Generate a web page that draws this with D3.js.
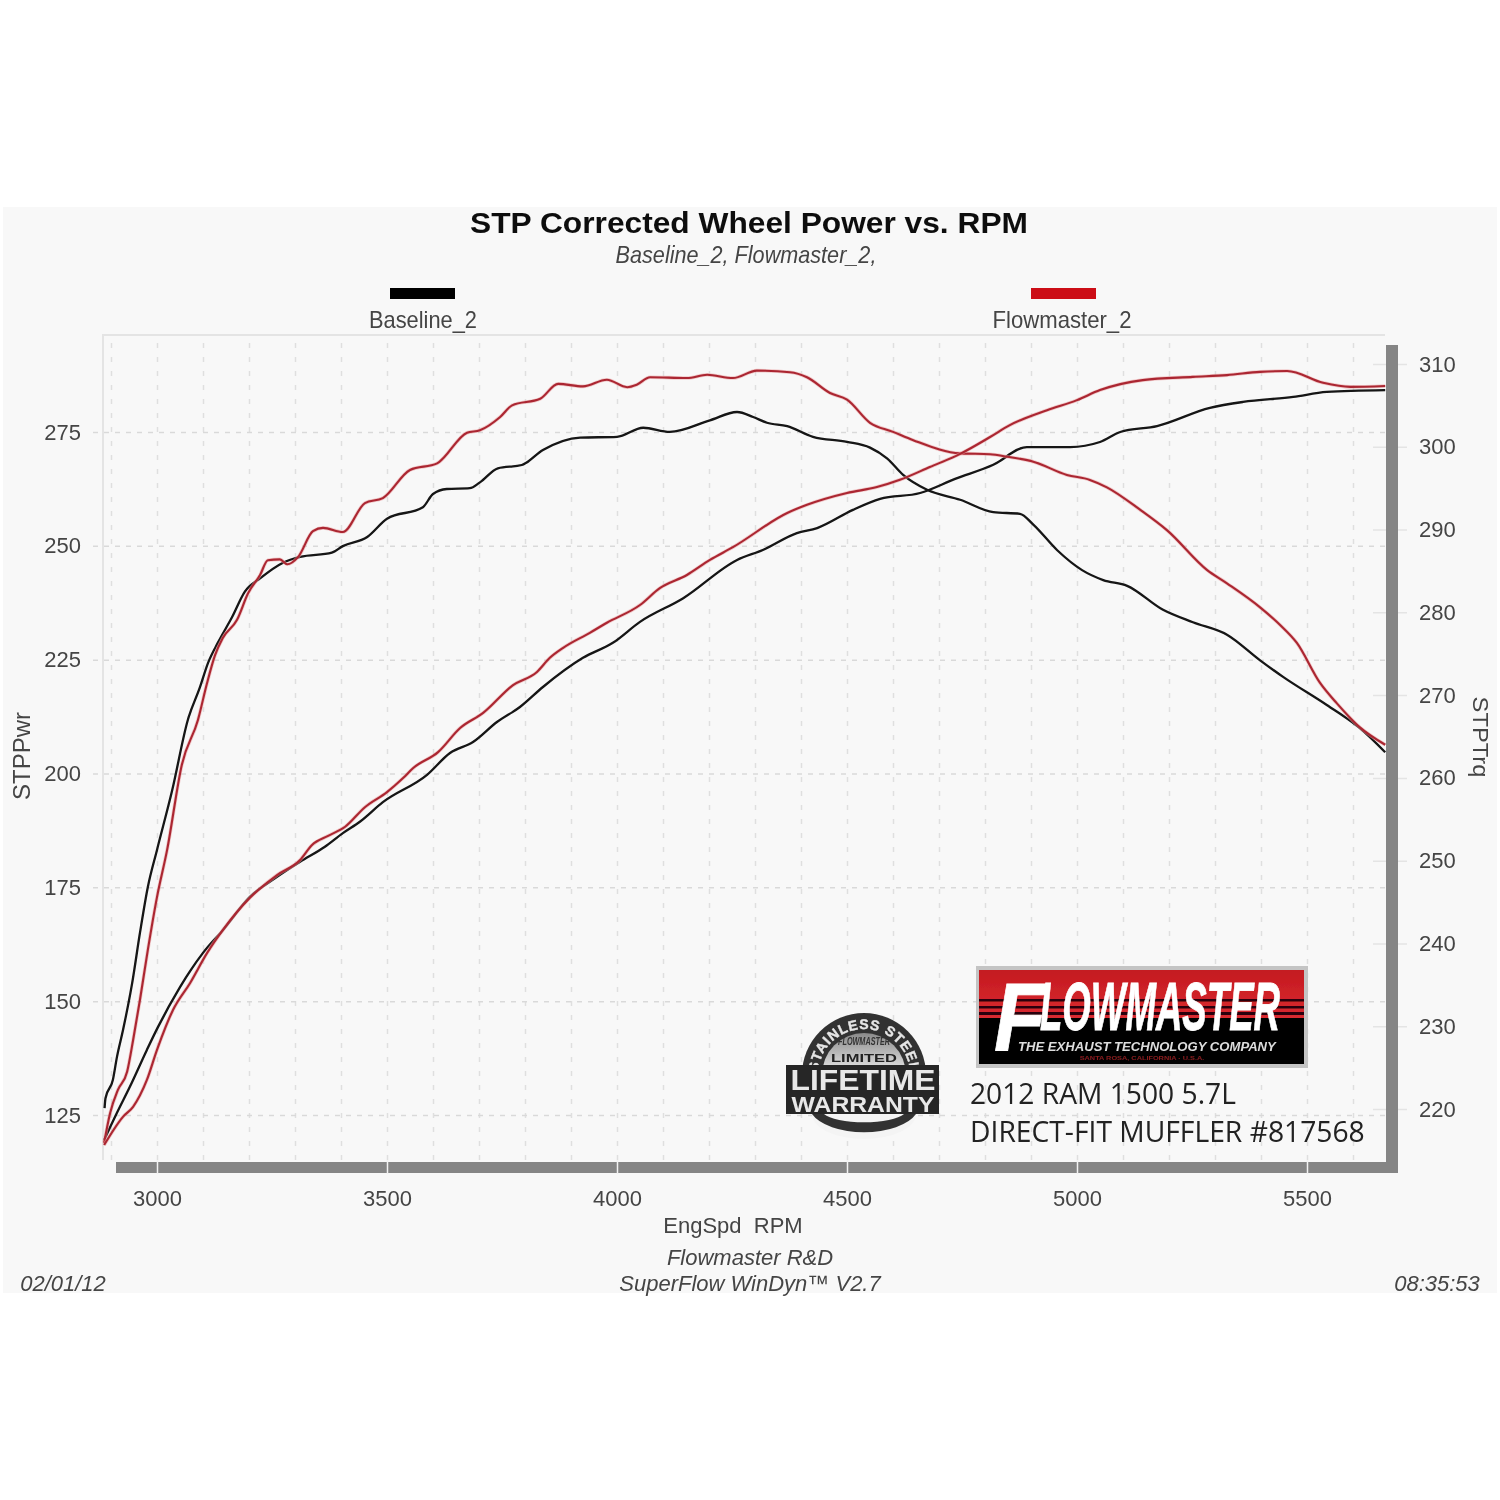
<!DOCTYPE html>
<html><head><meta charset="utf-8">
<style>
html,body{margin:0;padding:0;background:#fff}
svg{display:block}
text{font-family:"Liberation Sans",Arial,sans-serif;fill:#444}
.pre{white-space:pre}
</style>
<script src="https://cdn.jsdelivr.net/npm/d3@7"></script>
</head><body>
<script>
const xTicks=[3000,3500,4000,4500,5000,5500];
const xGrid=[2900,3000,3100,3200,3300,3400,3500,3600,3700,3800,3900,4000,4100,4200,4300,4400,4500,4600,4700,4800,4900,5000,5100,5200,5300,5400,5500,5600];
const powerTicks=[125,150,175,200,225,250,275];
const torqueTicks=[220,230,240,250,260,270,280,290,300,310];

const baseTorqueRpm=[2886,2888,2904,2913,2926,2946,2963,2980,3000,3033,3067,3093,3111,3133,3163,3191,3224,3274,3311,3380,3404,3457,3500,3578,3600,3630,3680,3702,3741,3793,3839,3920,4000,4057,4115,4202,4261,4296,4326,4370,4426,4500,4550,4587,4622,4674,4746,4818,4876,4905,4957,5011,5057,5109,5187,5252,5326,5398,5448,5543,5615,5670];
const baseTorque=[220.1,221.3,223.5,226.3,229.5,235.2,241.3,246.8,251.3,258.5,267,270.9,273.9,276.4,279.4,282.5,284.1,286,286.7,287.2,288,289.1,291.3,292.7,294.3,294.9,295,295.7,297.4,297.8,299.6,301.1,301.2,302.3,301.8,303.2,304.2,303.6,302.9,302.5,301.2,300.6,299.9,298.6,296.6,294.8,293.6,292.1,291.9,290.6,287.5,285.1,283.9,283.2,280.3,278.8,277.3,274.2,272.2,268.8,266,263.1];

const flowTorqueRpm=[2885,2898,2915,2935,2948,2963,2980,3000,3022,3054,3089,3109,3126,3143,3174,3198,3224,3241,3267,3283,3307,3339,3361,3404,3452,3491,3550,3609,3674,3702,3746,3772,3833,3872,3926,3978,4022,4043,4072,4152,4196,4252,4304,4376,4413,4463,4500,4550,4600,4644,4746,4811,4848,4905,4978,5028,5065,5137,5196,5283,5326,5398,5441,5478,5528,5565,5615,5670];
const flowTorque=[215.9,219.5,222.3,224.5,228.3,233.2,239.2,245.6,251.3,261.6,267,271.5,274.8,276.9,279.1,282.3,284.5,286.3,286.4,285.8,286.7,289.8,290.2,289.7,293.2,293.8,297.2,298,301.7,302,303.6,305,305.8,307.6,307.3,308.1,307.2,307.5,308.4,308.3,308.7,308.3,309.2,309,308.4,306.5,305.7,302.9,301.8,300.8,299.2,299.1,298.8,298.2,296.6,296,295.1,292.4,289.9,285.1,283.5,280.6,278.5,276.3,271.5,269,266.1,264];

const basePowerRpm=[2885,2913,2941,2978,3002,3050,3100,3143,3202,3261,3311,3365,3404,3441,3491,3587,3637,3687,3739,3789,3839,3926,3991,4050,4144,4261,4317,4391,4435,4513,4572,4659,4735,4818,4891,4985,5050,5094,5174,5289,5361,5470,5543,5670];
const basePower=[119.5,125.5,131.2,139.3,144.3,153.1,160.6,165.6,172.9,177.3,180.6,183.9,186.9,189.4,193.7,199.7,204.5,206.9,211.3,214.6,219,225.4,228.7,233.3,238.5,246.9,249.1,252.8,253.9,257.9,260.3,261.6,264.7,267.8,271.7,271.7,272.8,275,276.3,280.3,281.6,282.7,283.8,284.2];

const flowPowerRpm=[2885,2926,2948,2978,3000,3035,3072,3109,3143,3202,3261,3311,3337,3372,3409,3452,3500,3535,3557,3611,3659,3709,3774,3826,3854,3883,3941,3978,4050,4093,4152,4202,4252,4370,4413,4500,4565,4615,4680,4746,4811,4854,4935,5000,5050,5143,5252,5326,5398,5457,5535,5594,5670];
const flowPower=[118.4,124.6,126.8,132.7,139.3,148.1,154,160.6,165.6,172.7,177.7,181,184.3,186.3,188.3,192.6,195.9,199,201.2,204.7,210,213.3,219.4,222.3,225.4,227.6,230.9,233.1,237,240.7,243.6,246.9,249.7,257.2,259,261.6,262.9,264.5,267.3,270.2,273.9,276.5,279.8,282,284.2,286.4,287.1,287.5,288.2,288.4,285.8,284.9,285.1];

const seriesNames=["Baseline_2","Flowmaster_2"];
const colors=["#000000","#cc0a14"];
const lineColors=["#141414","#ab2630"];

const svg=d3.select("body").append("svg").attr("width",1500).attr("height",1500);
const defs=svg.append("defs");
const blur=defs.append("filter").attr("id","soft").attr("x","-5%").attr("y","-5%").attr("width","110%").attr("height","110%");
blur.append("feGaussianBlur").attr("stdDeviation",0.5);
const root=svg.append("g").attr("filter","url(#soft)");

root.append("rect").attr("x",3).attr("y",207).attr("width",1494).attr("height",1086).attr("fill","#f8f8f8");

const x=d3.scaleLinear().domain([3000,5500]).range([157,1307]);
const yP=d3.scaleLinear().domain([125,275]).range([1115,432]);
const yT=d3.scaleLinear().domain([220,310]).range([1109,364]);

// plot border
root.append("path").attr("d","M103,1160V335H1385").attr("fill","none").attr("stroke","#e4e4e4").attr("stroke-width",2);

// grid
const vg=root.append("g").attr("transform","translate(0,1160)")
  .call(d3.axisBottom(x).tickValues(xGrid).tickSize(-825).tickFormat(""));
vg.select(".domain").remove();
vg.selectAll("text").remove();
vg.selectAll("line").attr("stroke","#dfdfdf").attr("stroke-width",1.5).attr("stroke-dasharray","5 9");

const hg=root.append("g").attr("transform","translate(1385,0)")
  .call(d3.axisLeft(yP).tickValues(powerTicks).tickSize(1292).tickFormat(""));
hg.select(".domain").remove();
hg.selectAll("text").remove();
hg.selectAll("line").attr("stroke","#d9d9d9").attr("stroke-width",1.5).attr("stroke-dasharray","5 6");

// right axis (ticks pass beneath the thick bar)
const ra=root.append("g").attr("transform","translate(1385,0)")
  .call(d3.axisRight(yT).tickValues(torqueTicks).tickSize(22).tickPadding(12));
ra.select(".domain").remove();
ra.selectAll("line").attr("stroke","#e4e4e4").attr("stroke-width",1.5).attr("x1",-12);
ra.selectAll("text").attr("font-size",22).style("fill","#444");

// thick frame
root.append("rect").attr("x",116).attr("y",1162).attr("width",1282).attr("height",11).attr("fill","#858585");
root.append("rect").attr("x",1386).attr("y",345).attr("width",12).attr("height",828).attr("fill","#858585");

// bottom axis
const xa=root.append("g").attr("transform","translate(0,1160)")
  .call(d3.axisBottom(x).tickValues(xTicks).tickSize(14).tickPadding(16).tickFormat(d3.format("d")));
xa.select(".domain").remove();
xa.selectAll("line").attr("stroke","#f2f2f2").attr("stroke-width",1.5);
xa.selectAll("text").attr("font-size",22).style("fill","#444");

const la=root.append("g").attr("transform","translate(103,0)")
  .call(d3.axisLeft(yP).tickValues(powerTicks).tickSize(0).tickPadding(22));
la.select(".domain").remove();
la.selectAll("text").attr("font-size",22).style("fill","#444");

// curves
const zip=(a,b)=>a.map((v,i)=>[v,b[i]]);
const lineP=d3.line().curve(d3.curveMonotoneX).x(d=>x(d[0])).y(d=>yP(d[1]));
const lineT=d3.line().curve(d3.curveMonotoneX).x(d=>x(d[0])).y(d=>yT(d[1]));
const curves=[
 [lineT(zip(baseTorqueRpm,baseTorque)),0],
 [lineP(zip(basePowerRpm,basePower)),0],
 [lineT(zip(flowTorqueRpm,flowTorque)),1],
 [lineP(zip(flowPowerRpm,flowPower)),1]];
curves.forEach(([d,s])=>{
  if(s===1) root.append("path").attr("d",d).attr("fill","none").attr("stroke","#e9a0a2").attr("stroke-width",3.6).attr("stroke-opacity",0.55);
  root.append("path").attr("d",d).attr("fill","none").attr("stroke",lineColors[s]).attr("stroke-width",s?2.1:2.3).attr("stroke-linejoin","round");
});

// text helper: opt.len squeezes the text to a measured width
const T=(px,py,s,size,opt={})=>{
  const t=root.append("text").attr("x",px).attr("y",py).attr("font-size",size).text(s)
    .attr("text-anchor",opt.anchor||"middle");
  if(opt.weight) t.attr("font-weight",opt.weight);
  if(opt.italic) t.attr("font-style","italic");
  if(opt.fill) t.style("fill",opt.fill);
  if(opt.cls) t.attr("class",opt.cls);
  if(opt.font) t.style("font-family",opt.font);
  if(opt.stroke) t.style("stroke",opt.stroke).style("stroke-width",opt.sw||0.8);
  const rot=opt.rot?`rotate(${opt.rot})`:"";
  const sx=opt.len?opt.len/t.node().getComputedTextLength():1;
  t.attr("x",0).attr("y",0).attr("transform",`translate(${px},${py}) ${rot} scale(${sx},1)`);
  return t;
};
T(749,233,"STP Corrected Wheel Power vs. RPM",30,{weight:"bold",fill:"#111",len:558});
T(746,263,"Baseline_2, Flowmaster_2,",23,{italic:true,fill:"#444",len:261});
// legend
const legX=d3.scaleOrdinal().domain(seriesNames).range([423,1064]);
const legLen=[108,139];
seriesNames.forEach((n,i)=>{
  root.append("rect").attr("x",legX(n)-33).attr("y",288).attr("width",65).attr("height",11).attr("fill",colors[i]);
  T(i?1062:423,328,n,23,{fill:"#444",len:legLen[i]});
});
T(733,1233,"EngSpd  RPM",22,{cls:"pre"});
T(750,1265,"Flowmaster R&D",22,{italic:true});
T(750,1291,"SuperFlow WinDyn™ V2.7",22,{italic:true});
T(63,1291,"02/01/12",22,{italic:true});
T(1437,1291,"08:35:53",22,{italic:true});
T(30,756,"STPPwr",23,{rot:-90,len:88});
T(1473,737,"STPTrq",22,{rot:90,len:81});

// Flowmaster logo
const rg=defs.append("linearGradient").attr("id","logoRed").attr("x1",0).attr("y1",0).attr("x2",0).attr("y2",1);
rg.append("stop").attr("offset",0).attr("stop-color","#c41a20");
rg.append("stop").attr("offset",1).attr("stop-color","#d92a30");
root.append("rect").attr("x",976).attr("y",966).attr("width",332).attr("height",102).attr("fill","#c4c4c4");
root.append("rect").attr("x",979).attr("y",970).attr("width",325).attr("height",94).attr("fill","#050505");
root.append("rect").attr("x",979).attr("y",970).attr("width",325).attr("height",48).attr("fill","url(#logoRed)");
[999,1006,1012].forEach(yy=>root.append("rect").attr("x",979).attr("y",yy).attr("width",325).attr("height",yy===1012?3:2.5).attr("fill","#2a0508"));
T(994,1050,"F",97,{anchor:"start",weight:"bold",italic:true,fill:"#fff",len:52,stroke:"#fff"});
T(1040,1030,"LOWMASTER",68,{anchor:"start",weight:"bold",italic:true,fill:"#fff",len:240,stroke:"#fff"});
T(1018,1051,"THE EXHAUST TECHNOLOGY COMPANY",12.5,{anchor:"start",weight:"bold",italic:true,fill:"#ddd",len:258});
T(1142,1060,"SANTA ROSA, CALIFORNIA · U.S.A.",6,{weight:"bold",fill:"#8c1a1e",len:125});

// Warranty badge
const bx=864,by=1075;
root.append("circle").attr("cx",bx).attr("cy",by).attr("r",62).attr("fill","#333");
const mg=defs.append("linearGradient").attr("id","metal").attr("x1",0).attr("y1",0).attr("x2",0).attr("y2",1);
mg.append("stop").attr("offset",0).attr("stop-color","#8a8a8a");
mg.append("stop").attr("offset",0.5).attr("stop-color","#eeeeee");
mg.append("stop").attr("offset",1).attr("stop-color","#d0d0d0");
root.append("circle").attr("cx",bx).attr("cy",by).attr("r",42).attr("fill","url(#metal)");
defs.append("path").attr("id","arcTop").attr("d","M818,1075A46,46 0 0 1 910,1075");
const arcT=root.append("text").attr("font-size",14).attr("font-weight","bold").style("fill","#e6e6e6").style("stroke","#e6e6e6").style("stroke-width",0.4).attr("letter-spacing",0.8);
arcT.append("textPath").attr("href","#arcTop").attr("startOffset","50%").attr("text-anchor","middle").text("STAINLESS STEEL");
T(bx,1045,"FLOWMASTER",10,{weight:"bold",italic:true,fill:"#333",len:52});
T(bx,1062,"LIMITED",11,{weight:"bold",fill:"#222",len:66});
root.append("rect").attr("x",786).attr("y",1065).attr("width",153).attr("height",49).attr("fill","#262626");
T(863,1090,"LIFETIME",30,{weight:"bold",fill:"#e8e8e8",len:145});
T(863,1112,"WARRANTY",22,{weight:"bold",fill:"#e8e8e8",len:143});
root.append("path").attr("d","M812,1114A52,25 0 0 0 916,1114Z").attr("fill","#f4f4f4");
root.append("path").attr("d","M812,1114A55,27 0 0 0 916,1114L904,1114A42,12 0 0 1 824,1114Z").attr("fill","#333");

// Vehicle text
T(970,1104,"2012 RAM 1500 5.7L",30,{anchor:"start",fill:"#222",len:266,font:"'Open Sans'"});
T(970,1142,"DIRECT-FIT MUFFLER #817568",30,{anchor:"start",fill:"#222",len:395,font:"'Open Sans'"});
</script>
</body></html>
